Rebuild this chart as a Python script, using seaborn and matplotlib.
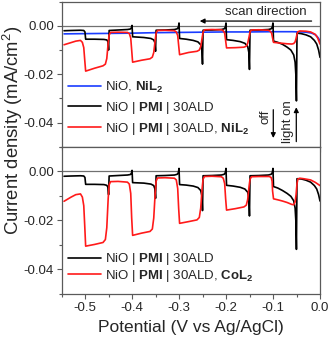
import matplotlib
matplotlib.use("Agg")
import matplotlib.pyplot as plt
import seaborn as sns
import pandas as pd

# ---------------- data ----------------
# top panel, NiO, NiL2 (blue)
top_blue_x = [0.0, -0.003, -0.006, -0.01, -0.015, -0.02, -0.03, -0.04, -0.06, -0.1, -0.15, -0.2, -0.25, -0.3,
              -0.35, -0.4, -0.45, -0.5, -0.545]
top_blue_y = [-0.0062, -0.0052, -0.0044, -0.0037, -0.0032, -0.0029, -0.0026, -0.0025, -0.0024, -0.0024, -0.0025,
              -0.0025, -0.0026, -0.0027, -0.0028, -0.0030, -0.0031, -0.0032, -0.0033]

# top panel, NiO|PMI|30ALD (black)
top_black_x = [0.0, -0.003, -0.007, -0.012, -0.02, -0.03, -0.04, -0.049,
               -0.0502, -0.0515, -0.053, -0.056, -0.062, -0.07, -0.08, -0.09, -0.099,
               -0.1002, -0.1015, -0.104, -0.11, -0.13, -0.149,
               -0.1502, -0.1515, -0.154, -0.16, -0.17, -0.185, -0.199,
               -0.2002, -0.2015, -0.204, -0.21, -0.23, -0.249,
               -0.2502, -0.2515, -0.254, -0.26, -0.27, -0.285, -0.299,
               -0.3002, -0.3015, -0.304, -0.31, -0.33, -0.349,
               -0.3502, -0.3515, -0.354, -0.36, -0.375, -0.399,
               -0.4002, -0.4015, -0.404, -0.41, -0.43, -0.449,
               -0.4502, -0.4515, -0.454, -0.46, -0.48, -0.499,
               -0.5005, -0.503, -0.51, -0.53, -0.545]
top_black_y = [-0.0130, -0.0100, -0.0075, -0.0060, -0.0045, -0.0037, -0.0032, -0.0030,
               -0.0310, -0.0200, -0.0150, -0.0120, -0.0100, -0.0088, -0.0076, -0.0068, -0.0063,
               0.0012, -0.0005, -0.0012, -0.0015, -0.0017, -0.0018,
               -0.0180, -0.0110, -0.0085, -0.0072, -0.0065, -0.0060, -0.0057,
               0.0012, -0.0005, -0.0012, -0.0015, -0.0017, -0.0018,
               -0.0158, -0.0100, -0.0078, -0.0066, -0.0060, -0.0055, -0.0052,
               0.0012, -0.0005, -0.0012, -0.0015, -0.0017, -0.0018,
               -0.0105, -0.0070, -0.0058, -0.0052, -0.0048, -0.0045,
               0.0002, -0.0008, -0.0013, -0.0015, -0.0017, -0.0019,
               -0.0100, -0.0065, -0.0058, -0.0056, -0.0055, -0.0055,
               -0.0025, -0.0019, -0.0018, -0.0019, -0.0020]

# top panel, NiO|PMI|30ALD, NiL2 (red)
top_red_x = [0.0, -0.005, -0.01, -0.02, -0.03, -0.043, -0.047,
             -0.049, -0.051, -0.053, -0.056, -0.06, -0.07, -0.08, -0.09, -0.099,
             -0.101, -0.103, -0.106, -0.11, -0.13, -0.146,
             -0.149, -0.151, -0.154, -0.157, -0.162, -0.18, -0.199,
             -0.201, -0.203, -0.206, -0.21, -0.23, -0.246,
             -0.249, -0.251, -0.254, -0.257, -0.262, -0.28, -0.299,
             -0.301, -0.303, -0.306, -0.31, -0.33, -0.346,
             -0.349, -0.351, -0.354, -0.357, -0.362, -0.38, -0.399,
             -0.401, -0.403, -0.406, -0.41, -0.43, -0.446,
             -0.449, -0.451, -0.454, -0.457, -0.462, -0.48, -0.499,
             -0.501, -0.503, -0.506, -0.51, -0.52, -0.53, -0.545]
top_red_y = [-0.0075, -0.0050, -0.0035, -0.0025, -0.0022, -0.0021, -0.0024,
             -0.0034, -0.0052, -0.0066, -0.0073, -0.0075, -0.0074, -0.0072, -0.0070, -0.0068,
             -0.0050, -0.0030, -0.0022, -0.0018, -0.0016, -0.0017,
             -0.0025, -0.0045, -0.0072, -0.0084, -0.0088, -0.0090, -0.0091,
             -0.0060, -0.0030, -0.0020, -0.0016, -0.0015, -0.0016,
             -0.0026, -0.0050, -0.0086, -0.0100, -0.0105, -0.0110, -0.0119,
             -0.0080, -0.0040, -0.0025, -0.0020, -0.0018, -0.0019,
             -0.0030, -0.0060, -0.0110, -0.0129, -0.0136, -0.0142, -0.0150,
             -0.0100, -0.0050, -0.0032, -0.0027, -0.0026, -0.0027,
             -0.0038, -0.0070, -0.0135, -0.0158, -0.0165, -0.0175, -0.0187,
             -0.0140, -0.0090, -0.0068, -0.0060, -0.0063, -0.0069, -0.0078]

# bottom panel, NiO|PMI|30ALD (black)
bot_black_x = [0.0, -0.003, -0.007, -0.012, -0.02, -0.03, -0.04, -0.049,
               -0.0502, -0.0515, -0.053, -0.056, -0.062, -0.07, -0.08, -0.09, -0.099,
               -0.1002, -0.1015, -0.104, -0.11, -0.13, -0.149,
               -0.1502, -0.1515, -0.154, -0.16, -0.17, -0.185, -0.199,
               -0.2002, -0.2015, -0.204, -0.21, -0.23, -0.249,
               -0.2502, -0.2515, -0.254, -0.26, -0.27, -0.285, -0.299,
               -0.3002, -0.3015, -0.304, -0.31, -0.33, -0.349,
               -0.3502, -0.3515, -0.354, -0.36, -0.375, -0.399,
               -0.4002, -0.4015, -0.404, -0.41, -0.43, -0.449,
               -0.4502, -0.4515, -0.454, -0.46, -0.48, -0.499,
               -0.5005, -0.503, -0.51, -0.53, -0.545]
bot_black_y = [-0.0121, -0.0095, -0.0072, -0.0058, -0.0044, -0.0036, -0.0031, -0.0030,
               -0.0318, -0.0200, -0.0150, -0.0120, -0.0102, -0.0090, -0.0078, -0.0068, -0.0062,
               0.0012, -0.0005, -0.0012, -0.0015, -0.0017, -0.0018,
               -0.0182, -0.0110, -0.0085, -0.0072, -0.0065, -0.0060, -0.0057,
               0.0012, -0.0005, -0.0012, -0.0015, -0.0017, -0.0018,
               -0.0160, -0.0100, -0.0078, -0.0066, -0.0060, -0.0056, -0.0054,
               0.0012, -0.0005, -0.0012, -0.0015, -0.0017, -0.0018,
               -0.0110, -0.0072, -0.0058, -0.0052, -0.0048, -0.0046,
               0.0004, -0.0008, -0.0013, -0.0015, -0.0017, -0.0019,
               -0.0095, -0.0065, -0.0057, -0.0054, -0.0053, -0.0053,
               -0.0025, -0.0019, -0.0018, -0.0019, -0.0020]

# bottom panel, NiO|PMI|30ALD, CoL2 (red)
bot_red_x = [0.0, -0.01, -0.02, -0.035, -0.043, -0.047,
             -0.049, -0.051, -0.053, -0.056, -0.06, -0.07, -0.08, -0.09, -0.099,
             -0.101, -0.102, -0.104, -0.108, -0.13, -0.146,
             -0.149, -0.151, -0.154, -0.157, -0.162, -0.18, -0.199,
             -0.201, -0.203, -0.206, -0.21, -0.23, -0.246,
             -0.249, -0.251, -0.254, -0.257, -0.262, -0.28, -0.299,
             -0.301, -0.303, -0.306, -0.31, -0.33, -0.346,
             -0.349, -0.351, -0.354, -0.357, -0.362, -0.38, -0.399,
             -0.401, -0.403, -0.406, -0.41, -0.43, -0.446,
             -0.449, -0.451, -0.454, -0.457, -0.462, -0.48, -0.499,
             -0.501, -0.503, -0.506, -0.51, -0.52, -0.53, -0.545]
bot_red_y = [-0.0058, -0.0045, -0.0035, -0.0030, -0.0028, -0.0031,
             -0.0050, -0.0095, -0.0125, -0.0136, -0.0135, -0.0127, -0.0121, -0.0116, -0.0112,
             -0.0080, -0.0040, -0.0025, -0.0021, -0.0021, -0.0022,
             -0.0032, -0.0060, -0.0115, -0.0138, -0.0145, -0.0152, -0.0158,
             -0.0110, -0.0050, -0.0028, -0.0022, -0.0020, -0.0021,
             -0.0032, -0.0070, -0.0150, -0.0188, -0.0198, -0.0205, -0.0212,
             -0.0150, -0.0070, -0.0035, -0.0028, -0.0026, -0.0027,
             -0.0040, -0.0090, -0.0190, -0.0235, -0.0245, -0.0252, -0.0261,
             -0.0190, -0.0090, -0.0052, -0.0044, -0.0041, -0.0042,
             -0.0055, -0.0110, -0.0230, -0.0278, -0.0290, -0.0298, -0.0305,
             -0.0220, -0.0140, -0.0105, -0.0092, -0.0095, -0.0105, -0.0122]

x_ticks = [-0.5, -0.4, -0.3, -0.2, -0.1, 0.0]
x_ticklabels = ["-0.5", "-0.4", "-0.3", "-0.2", "-0.1", "0.0"]
y_ticks = [0.0, -0.02, -0.04]
y_ticklabels = ["0.00", "-0.02", "-0.04"]

lab_blue = r"NiO, $\mathbf{NiL_2}$"
lab_black = r"NiO | $\mathbf{PMI}$ | 30ALD"
lab_red_top = r"NiO | $\mathbf{PMI}$ | 30ALD, $\mathbf{NiL_2}$"
lab_red_bot = r"NiO | $\mathbf{PMI}$ | 30ALD, $\mathbf{CoL_2}$"

# ---------------- style ----------------
sns.set_style("ticks")
plt.rcParams["font.family"] = ["Liberation Sans", "DejaVu Sans"]
plt.rcParams["mathtext.fontset"] = "custom"
plt.rcParams["mathtext.rm"] = "Liberation Sans"
plt.rcParams["mathtext.it"] = "Liberation Sans:italic"
plt.rcParams["mathtext.bf"] = "Liberation Sans:bold"

SPINE = "#5a5a5a"
BLUE = "#1a3cff"
RED = "#ff1a1a"
BLACK = "#000000"

fig = plt.figure(figsize=(3.31, 3.42), dpi=100)
L, R = 0.1864, 0.9668
ax1 = fig.add_axes([L, 0.5707, R - L, 0.4243])
ax2 = fig.add_axes([L, 0.1404, R - L, 0.4303], sharex=ax1)


def draw(ax, x, y, color, label):
    df = pd.DataFrame({"x": x, "y": y})
    sns.lineplot(data=df, x="x", y="y", sort=False, estimator=None, color=color,
                 lw=1.2, ax=ax, label=label)


for ax in (ax1, ax2):
    ax.axhline(0, color="#707070", lw=0.9, zorder=1)

draw(ax1, top_blue_x, top_blue_y, BLUE, lab_blue)
draw(ax1, top_black_x, top_black_y, BLACK, lab_black)
draw(ax1, top_red_x, top_red_y, RED, lab_red_top)
draw(ax2, bot_black_x, bot_black_y, BLACK, lab_black)
draw(ax2, bot_red_x, bot_red_y, RED, lab_red_bot)

for ax in (ax1, ax2):
    ax.set_xlim(-0.545, 0.0)
    ax.set_ylim(-0.05, 0.01)
    ax.set_yticks(y_ticks)
    ax.set_yticklabels(y_ticklabels)
    ax.set_yticks([-0.01, -0.03, -0.05, 0.01], minor=True)
    ax.set_xticks(x_ticks)
    ax.set_xticks([-0.55, -0.45, -0.35, -0.25, -0.15, -0.05], minor=True)
    ax.tick_params(axis="both", which="major", direction="out", length=3.5, width=0.8,
                   color=SPINE, labelsize=9.5, pad=2)
    ax.tick_params(axis="both", which="minor", direction="out", length=2, width=0.8, color=SPINE)
    for s in ax.spines.values():
        s.set_color(SPINE)
        s.set_linewidth(0.9)
    ax.set_xlabel("")
    ax.set_ylabel("")

ax1.tick_params(axis="x", which="both", labelbottom=False)
ax2.set_xticklabels(x_ticklabels)

leg1 = ax1.legend(loc="lower left", bbox_to_anchor=(-0.01, 0.005), frameon=False, fontsize=9.5,
                  handlelength=2.5, handletextpad=0.25, labelspacing=0.38, borderpad=0.2)
leg2 = ax2.legend(loc="lower left", bbox_to_anchor=(-0.01, 0.005), frameon=False, fontsize=9.5,
                  handlelength=2.5, handletextpad=0.25, labelspacing=0.05, borderpad=0.2)

# annotations
ax1.annotate("", xy=(-0.262, 0.002), xytext=(-0.012, 0.002),
             arrowprops=dict(arrowstyle="-|>", color="black", lw=0.9, mutation_scale=7))
ax1.text(-0.115, 0.0056, "scan direction", ha="center", va="center", fontsize=9.5)
ax1.annotate("", xy=(-0.0995, -0.0475), xytext=(-0.0995, -0.0335),
             arrowprops=dict(arrowstyle="-|>", color="black", lw=0.9, mutation_scale=7))
ax1.text(-0.116, -0.0375, "off", rotation=90, ha="center", va="center", fontsize=9.5)
ax1.annotate("", xy=(-0.0505, -0.0325), xytext=(-0.0505, -0.049),
             arrowprops=dict(arrowstyle="-|>", color="black", lw=0.9, mutation_scale=7))
ax1.text(-0.068, -0.0395, "light on", rotation=90, ha="center", va="center", fontsize=9.5)

fig.text(0.04, 0.62, "Current density (mA/cm$^2$)", rotation=90, ha="center", va="center",
         fontsize=13.3)
fig.text(0.577, 0.043, "Potential (V vs Ag/AgCl)", ha="center", va="center", fontsize=12.5)

fig.savefig("out.png", dpi=100)
